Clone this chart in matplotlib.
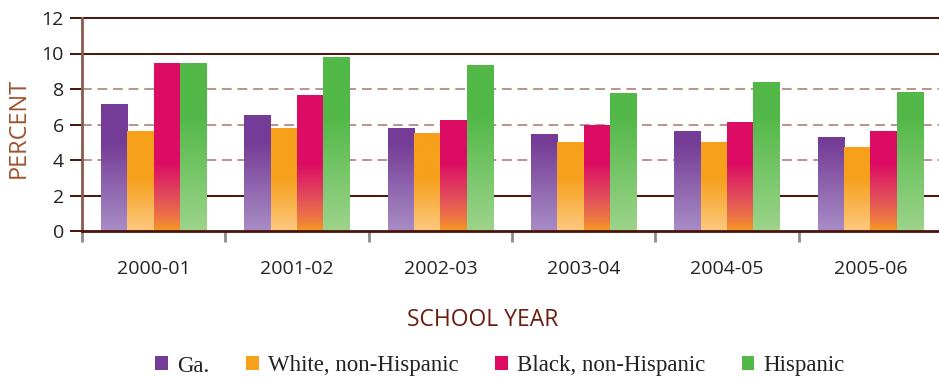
import numpy as np
import matplotlib
matplotlib.use("Agg")
import matplotlib.pyplot as plt
from matplotlib.patches import Patch
from matplotlib.colors import to_rgb

# Dropout rate by school year and student group
years = ["2000-01", "2001-02", "2002-03", "2003-04", "2004-05", "2005-06"]
series_names = ["Ga.", "White, non-Hispanic", "Black, non-Hispanic", "Hispanic"]
ga = [7.15, 6.48, 5.80, 5.41, 5.63, 5.24]
white = [5.63, 5.80, 5.52, 4.96, 5.01, 4.73]
black = [9.43, 7.66, 6.20, 5.92, 6.14, 5.63]
hispanic = [9.43, 9.80, 9.30, 7.77, 8.39, 7.83]
y_ticks = [0, 2, 4, 6, 8, 10, 12]

# Colour ramps per series: (height in data units, colour), bottom to top
ramps = [
    [(0.0, "#a98dc6"), (5.0, "#743c96")],
    [(0.0, "#fdc87e"), (3.0, "#f6a01c")],
    [(0.0, "#f59b1c"), (0.6, "#ee7a40"), (1.8, "#e2505a"), (3.8, "#dc0c64")],
    [(0.0, "#9dd48b"), (6.5, "#52b848")],
]
legend_colors = ["#743c96", "#f6a01c", "#dc0c64", "#52b848"]


def ramp_color(ramp, y):
    hs = np.array([h for h, _ in ramp])
    cs = np.array([to_rgb(c) for _, c in ramp])
    return np.stack([np.interp(y, hs, cs[:, k]) for k in range(3)], axis=-1)


fig = plt.figure(figsize=(9.39, 3.78), dpi=100)
ax = fig.add_axes([82 / 939, 1 - 231 / 378, 860 / 939, 213 / 378])

data = [ga, white, black, hispanic]
n = len(years)
x = np.arange(n) + 0.5
w = 0.184
for i, (vals, ramp) in enumerate(zip(data, ramps)):
    bars = ax.bar(x + (i - 1.5) * w, vals, width=w, color=legend_colors[i],
                  linewidth=0, zorder=3)
    for b in bars:
        h = b.get_height()
        ys = np.linspace(0, h, 200)
        img = ramp_color(ramp, ys)[:, None, :]
        ax.imshow(img, extent=(b.get_x(), b.get_x() + b.get_width(), 0, h),
                  origin="lower", aspect="auto", interpolation="bilinear",
                  zorder=4)

ax.set_xlim(0, n)
ax.set_ylim(0, 12)

# Horizontal reference lines
for v in [2, 10, 12]:
    ax.axhline(v, color="#4a1208", lw=1.4, zorder=1, clip_on=False)
for v in [4, 6, 8]:
    ax.axhline(v, color="#b9938f", lw=1.4, ls=(0, (5, 3)), zorder=1)

ax.set_yticks(y_ticks)
ax.set_yticklabels([str(t) for t in y_ticks], fontfamily="Open Sans",
                   fontsize=14, color="#222222")
ax.tick_params(axis="y", direction="out", length=9, width=1.4,
               color="#4a1208", pad=4)

ax.set_xticks(np.arange(n + 1), minor=False)
ax.set_xticklabels([])
ax.tick_params(axis="x", direction="out", length=8, width=2,
               color="#8c8c8c")
ax.set_xticks(x, minor=True)
ax.set_xticklabels(years, minor=True, fontfamily="Open Sans", fontsize=14,
                   color="#222222")
ax.tick_params(axis="x", which="minor", length=0, pad=21)

for s in ["top", "right"]:
    ax.spines[s].set_visible(False)
ax.spines["left"].set_color("#8b5a4e")
ax.spines["left"].set_linewidth(2)
ax.spines["bottom"].set_color("#4a1208")
ax.spines["bottom"].set_linewidth(2)
ax.spines["left"].set_zorder(6)
ax.spines["bottom"].set_zorder(6)

fig.text(19 / 939, 1 - 128 / 378, "PERCENT", ha="center", va="center",
         rotation=90, fontfamily="Open Sans", fontsize=17, color="#a0522d")
fig.text(483 / 939, 1 - 320 / 378, "SCHOOL YEAR", ha="center", va="center",
         fontfamily="Open Sans", fontsize=16.5, color="#6b1e0e")

handles = [Patch(facecolor=c, edgecolor="none") for c in legend_colors]
fig.legend(handles, series_names, loc="center", ncol=4,
           bbox_to_anchor=(500 / 939, 1 - 366 / 378), frameon=False,
           prop={"family": "Liberation Serif", "size": 16.5},
           handlelength=0.55, handleheight=0.55, handletextpad=0.4,
           columnspacing=1.6, labelcolor="#222222")

fig.savefig("out.png", dpi=100)
